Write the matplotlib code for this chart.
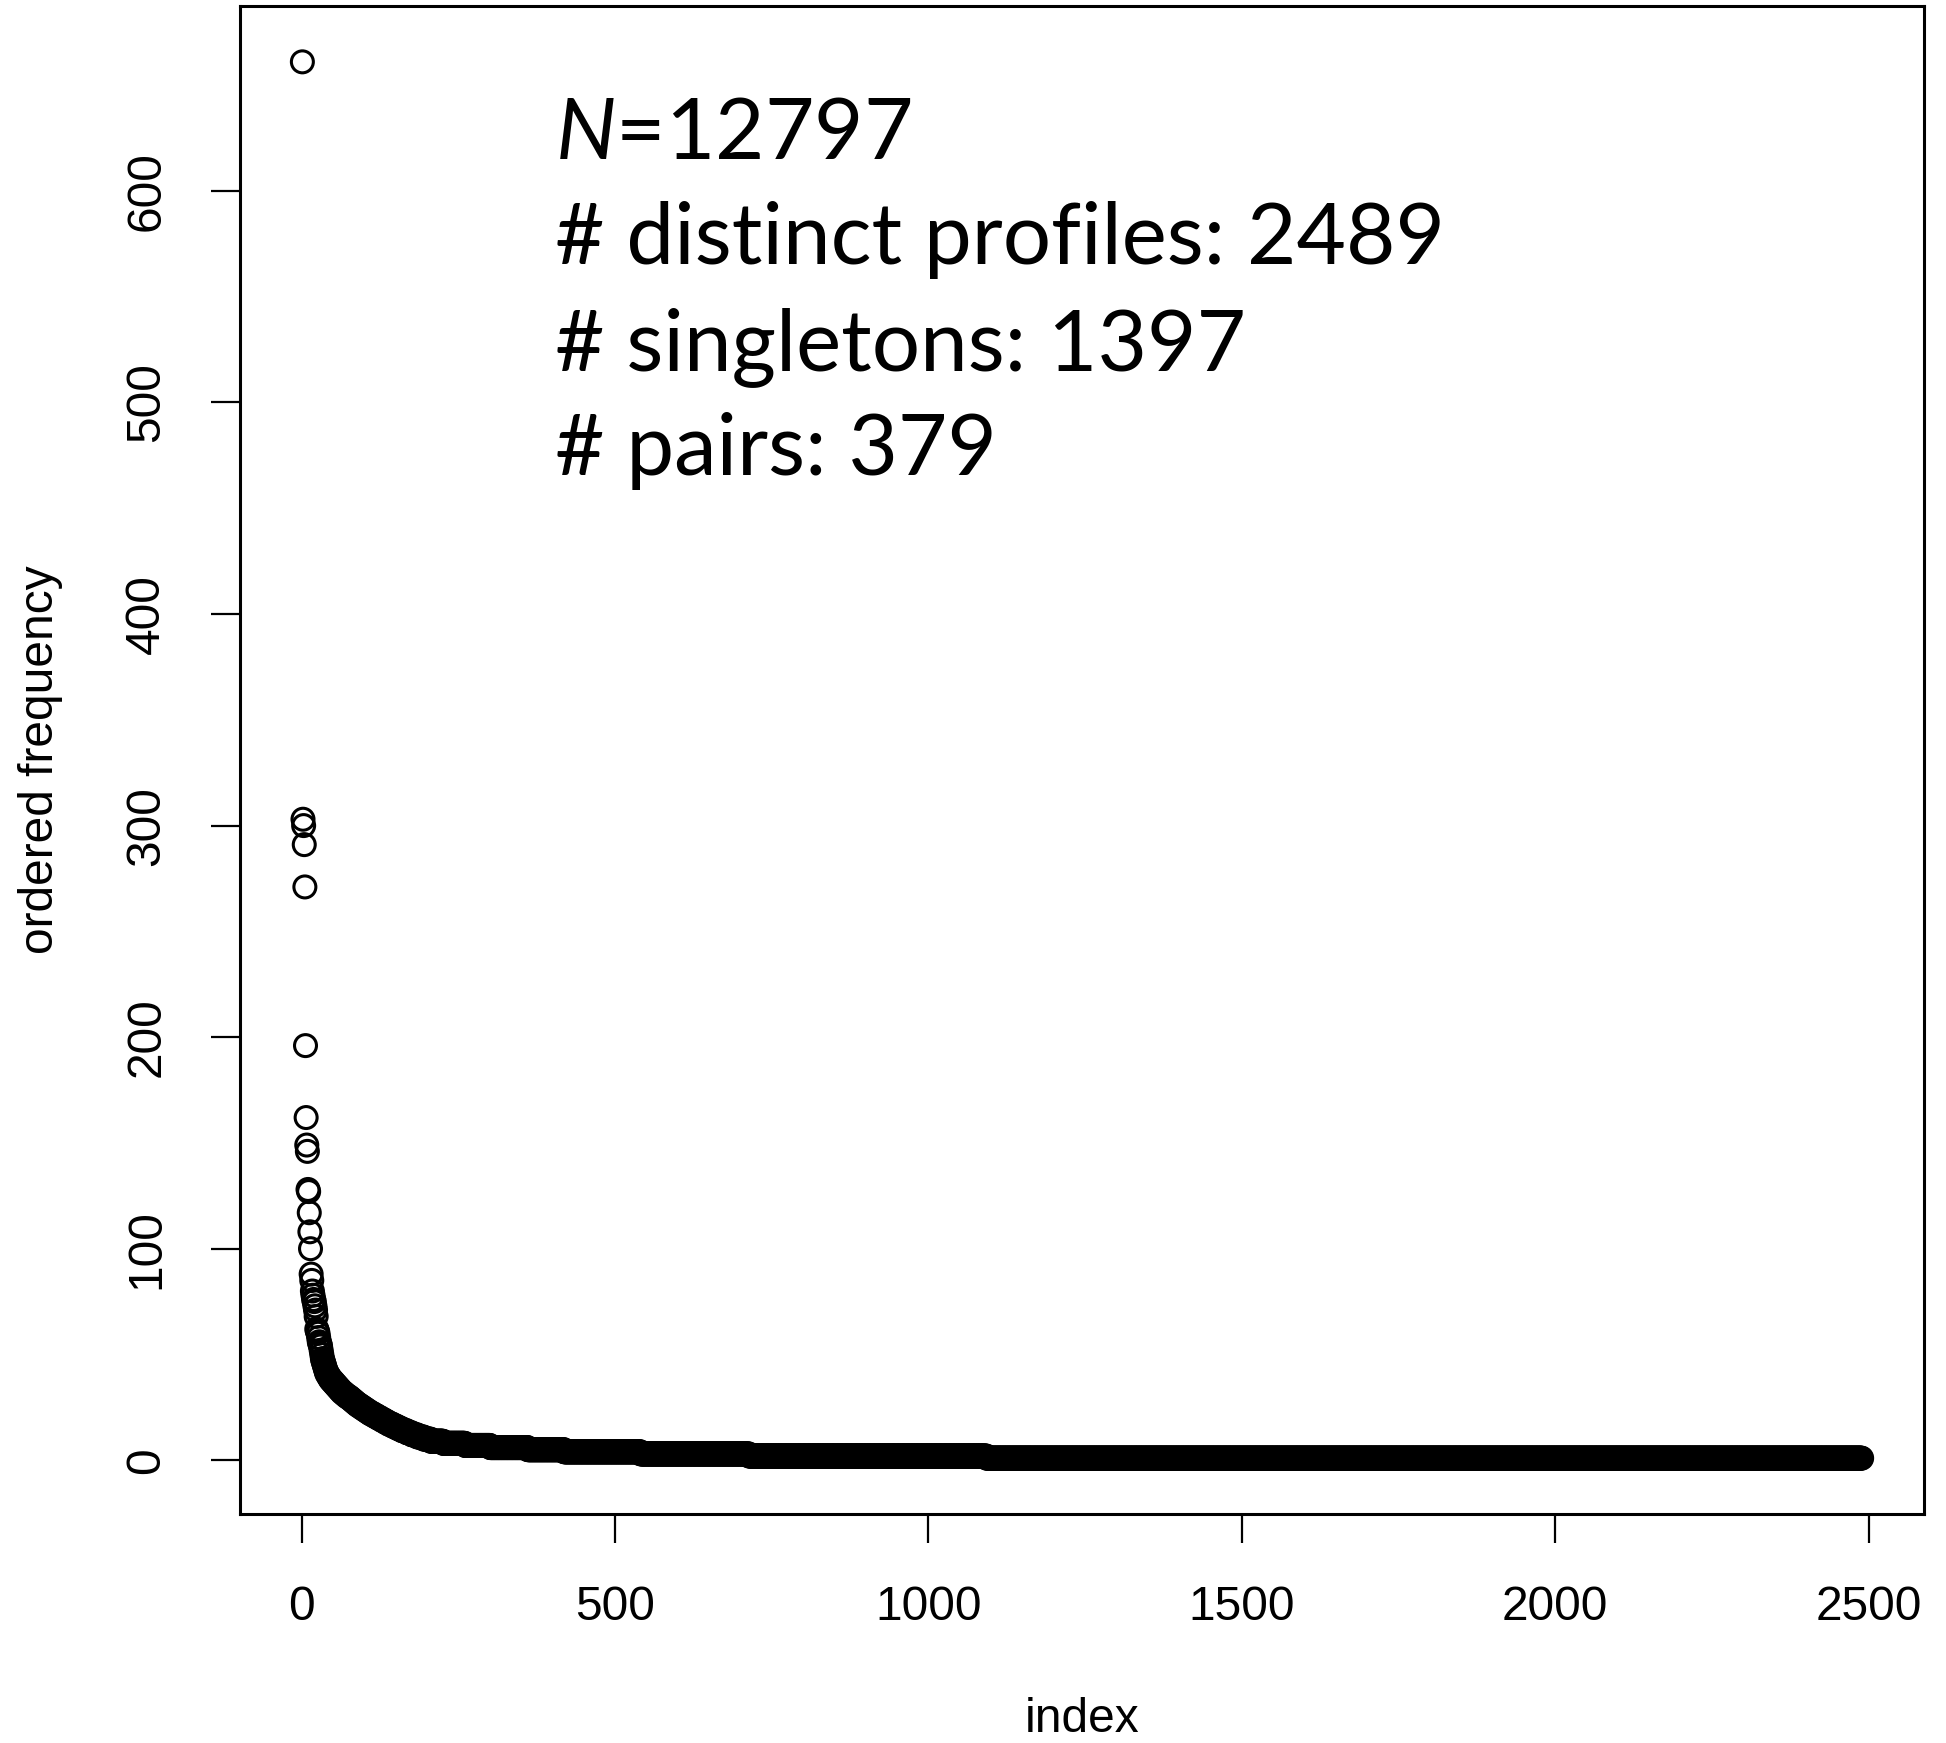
import numpy as np
import matplotlib
matplotlib.use("Agg")
import matplotlib.pyplot as plt

# largest frequencies, read one by one
top_freqs = [661, 303, 300, 291, 271, 196, 162, 149, 146, 128, 127, 117, 108, 100,
             88, 85, 80, 78, 76, 75, 73, 71, 68, 62, 61, 60, 58, 56, 55, 54, 52,
             50, 48, 47, 46, 45, 44, 43, 42]

# rest of the curve as (frequency, number of profiles)
tail_values = [41, 40, 39, 38, 37, 36, 35, 34, 33, 32, 31, 30,
               29, 28, 27, 26, 25, 24, 23, 22, 21, 20,
               19, 18, 17, 16, 15, 14, 13, 12, 11, 10,
               9, 8, 7, 6, 5, 4, 3, 2, 1]
tail_counts = [2, 2, 2, 3, 3, 3, 3, 3, 3, 4, 4, 5,
               4, 4, 4, 5, 5, 5, 5, 6, 6, 6,
               6, 6, 7, 7, 7, 8, 8, 9, 10, 11,
               20, 35, 40, 60, 58, 122, 173, 379, 1397]

x_ticks = [0, 500, 1000, 1500, 2000, 2500]
y_ticks = [0, 100, 200, 300, 400, 500, 600]

info_lines = [r"$\mathit{N}$=12797",
              "# distinct profiles: 2489",
              "# singletons: 1397",
              "# pairs: 379"]


def plot_freqs(freqs):
    W, H = 1946, 1743
    fig = plt.figure(figsize=(W / 100, H / 100), dpi=100)
    ax = fig.add_axes([240 / W, 1 - 1514 / H, (1924 - 240) / W, (1514 - 6) / H])

    idx = np.arange(1, len(freqs) + 1)
    ax.scatter(idx, freqs, s=250, facecolors="none", edgecolors="black", linewidths=2.2)

    # R style 4% padding
    xr = idx.max() - idx.min()
    yr = freqs.max() - freqs.min()
    ax.set_xlim(idx.min() - 0.04 * xr, idx.max() + 0.04 * xr)
    ax.set_ylim(freqs.min() - 0.04 * yr, freqs.max() + 0.04 * yr)

    ax.set_xticks(x_ticks)
    ax.set_yticks(y_ticks)
    for sp in ax.spines.values():
        sp.set_linewidth(2.2)
    ax.tick_params(length=21, width=1.6, labelsize=34.5, pad=30)
    for lab in ax.get_yticklabels():
        lab.set_rotation(90)
        lab.set_va("center")

    fig.text(1082 / W, 1 - 1719 / H, "index", fontsize=34.5, ha="center", va="center")
    fig.text(41 / W, 1 - 760 / H, "ordered frequency", fontsize=34.5,
             ha="center", va="center", rotation=90)

    # stats block
    baselines = [159, 264, 370, 475]
    for line, yb in zip(info_lines, baselines):
        fig.text(555 / W, 1 - yb / H, line, fontsize=61.5, family="Lato", va="baseline")

    fig.savefig("out.png", dpi=100)


def main():
    plt.rcParams["font.family"] = ["Liberation Sans", "DejaVu Sans"]
    plt.rcParams["mathtext.fontset"] = "custom"
    plt.rcParams["mathtext.it"] = "Lato:italic"
    plt.rcParams["mathtext.rm"] = "Lato"
    freqs = np.concatenate([top_freqs, np.repeat(tail_values, tail_counts)])
    plot_freqs(freqs)


if __name__ == "__main__":
    main()
